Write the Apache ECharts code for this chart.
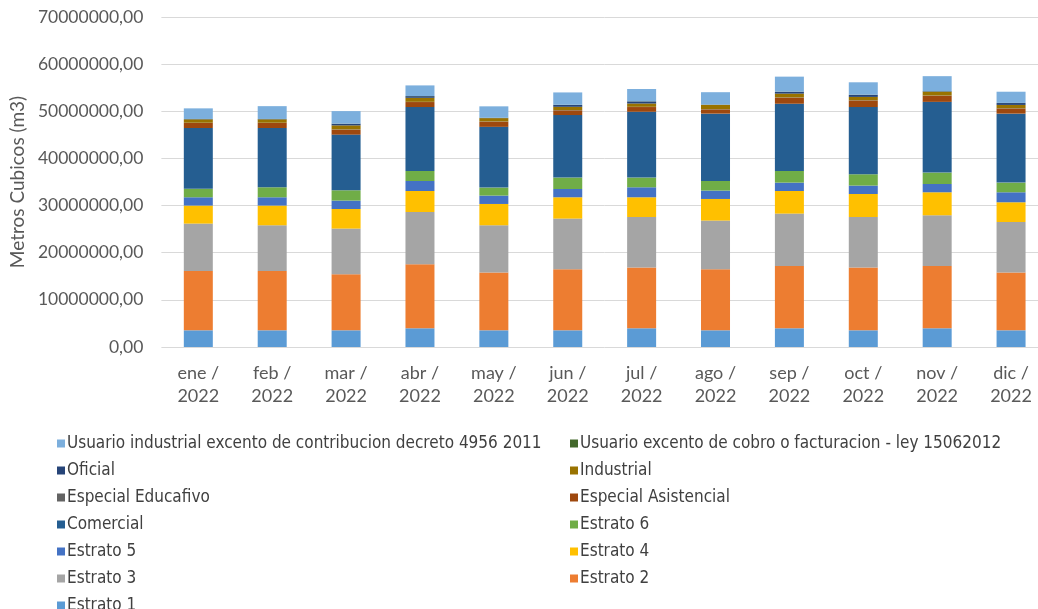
<!DOCTYPE html>
<html>
<head>
<meta charset="utf-8">
<script src="https://cdn.jsdelivr.net/npm/echarts@6/dist/echarts.min.js"></script>
<style>
html,body{margin:0;padding:0;background:#fff;overflow:hidden;}
#chart{width:1070px;height:660px;}
</style>
</head>
<body>
<div id="chart"></div>
<script>
// Categories (months)
const categories = ['ene / 2022','feb / 2022','mar / 2022','abr / 2022','may / 2022','jun / 2022','jul / 2022','ago / 2022','sep / 2022','oct / 2022','nov / 2022','dic / 2022'];

// Series names (stack order, bottom to top)
const seriesNames = ['Estrato 1','Estrato 2','Estrato 3','Estrato 4','Estrato 5','Estrato 6','Comercial','Especial Asistencial','Especial Educafivo','Industrial','Oficial','Usuario excento de cobro o facturacion - ley 15062012','Usuario industrial excento de contribucion decreto 4956 2011'];

// Values in millions of m3
const estrato1     = [3.54, 3.54, 3.54, 3.97, 3.54, 3.54, 3.97, 3.54, 3.97, 3.54, 3.97, 3.54];
const estrato2     = [12.58, 12.58, 11.88, 13.57, 12.24, 12.94, 12.87, 12.94, 13.21, 13.30, 13.21, 12.24];
const estrato3     = [10.06, 9.70, 9.70, 11.10, 10.04, 10.76, 10.74, 10.34, 11.12, 10.74, 10.76, 10.74];
const estrato4     = [3.82, 4.18, 4.15, 4.45, 4.52, 4.52, 4.18, 4.58, 4.79, 4.88, 4.88, 4.18];
const estrato5     = [1.76, 1.76, 1.79, 2.12, 1.78, 1.76, 2.12, 1.78, 1.78, 1.78, 1.76, 2.12];
const estrato6     = [1.80, 2.12, 2.18, 2.13, 1.69, 2.42, 2.06, 2.03, 2.47, 2.40, 2.42, 2.05];
const comercial    = [12.90, 12.58, 11.81, 13.56, 12.89, 13.26, 13.96, 14.29, 14.26, 14.26, 15.00, 14.63];
const asistencial  = [1.06, 1.06, 1.06, 1.06, 1.10, 1.00, 1.00, 0.90, 1.30, 1.40, 1.30, 1.10];
const educativo    = [0.05, 0.05, 0.05, 0.05, 0.05, 0.05, 0.05, 0.05, 0.05, 0.05, 0.05, 0.05];
const industrial   = [0.72, 0.72, 0.85, 0.85, 0.70, 0.70, 0.70, 0.90, 0.80, 0.70, 0.80, 0.70];
const oficial      = [0.05, 0.05, 0.35, 0.35, 0.05, 0.40, 0.45, 0.05, 0.40, 0.45, 0.10, 0.40];
const excento      = [0.03, 0.03, 0.03, 0.03, 0.03, 0.03, 0.03, 0.03, 0.03, 0.03, 0.03, 0.03];
const usuarioInd   = [2.25, 2.72, 2.65, 2.25, 2.42, 2.62, 2.60, 2.62, 3.17, 2.62, 3.17, 2.37];

// Y axis ticks
const yMin = 0, yMax = 70000000, yStep = 10000000;

const seriesValues = [estrato1, estrato2, estrato3, estrato4, estrato5, estrato6, comercial, asistencial, educativo, industrial, oficial, excento, usuarioInd];
const colors = ['#5B9BD5','#ED7D31','#A5A5A5','#FFC000','#4472C4','#70AD47','#255E91','#9E480E','#636363','#997300','#264478','#43682B','#7CAFDD'];

const chart = echarts.init(document.getElementById('chart'));
const labelFont = "Lato, 'Open Sans', sans-serif";
const legendFont = "'Liberation Sans Narrow', 'DejaVu Sans Condensed', 'Liberation Sans', sans-serif";

const legendLeft = [12, 10, 8, 6, 4, 2, 0].map(i => seriesNames[i]);
const legendRight = [11, 9, 7, 5, 3, 1].map(i => seriesNames[i]);
const legendCommon = {
  orient: 'vertical', icon: 'rect', itemWidth: 8, itemHeight: 8, itemGap: 10,
  height: 220,
  textStyle: { fontFamily: legendFont, fontSize: 17, color: '#404040', lineHeight: 16, padding: [0,0,0,-3] }
};

chart.setOption({
  animation: false,
  backgroundColor: '#fff',
  color: colors,
  grid: { left: 160, top: 17, width: 888, height: 330 },
  legend: [
    Object.assign({}, legendCommon, { left: 52, top: 430, data: legendLeft }),
    Object.assign({}, legendCommon, { left: 565, top: 430, data: legendRight })
  ],
  xAxis: {
    type: 'category',
    data: categories,
    axisLine: { show: false },
    axisTick: { show: false },
    axisLabel: {
      interval: 0, margin: 15,
      fontFamily: labelFont, fontSize: 18, color: '#595959', lineHeight: 23,
      formatter: v => v.replace(' / ', ' /\n')
    }
  },
  yAxis: {
    type: 'value', min: yMin, max: yMax, interval: yStep,
    name: 'Metros Cubicos (m3)', nameLocation: 'middle', nameGap: 130,
    nameTextStyle: { fontFamily: labelFont, fontSize: 19, color: '#595959' },
    axisLabel: { margin: 18, fontFamily: labelFont, fontSize: 17.5, color: '#595959', formatter: v => v + ',00' },
    splitLine: { lineStyle: { color: '#D9D9D9', width: 1 } }
  },
  series: seriesNames.map((name, i) => ({
    name, type: 'bar', stack: 'total', barWidth: 29,
    data: seriesValues[i].map(v => Math.round(v * 1000000)),
    itemStyle: { color: colors[i] }
  }))
});
</script>
</body>
</html>
